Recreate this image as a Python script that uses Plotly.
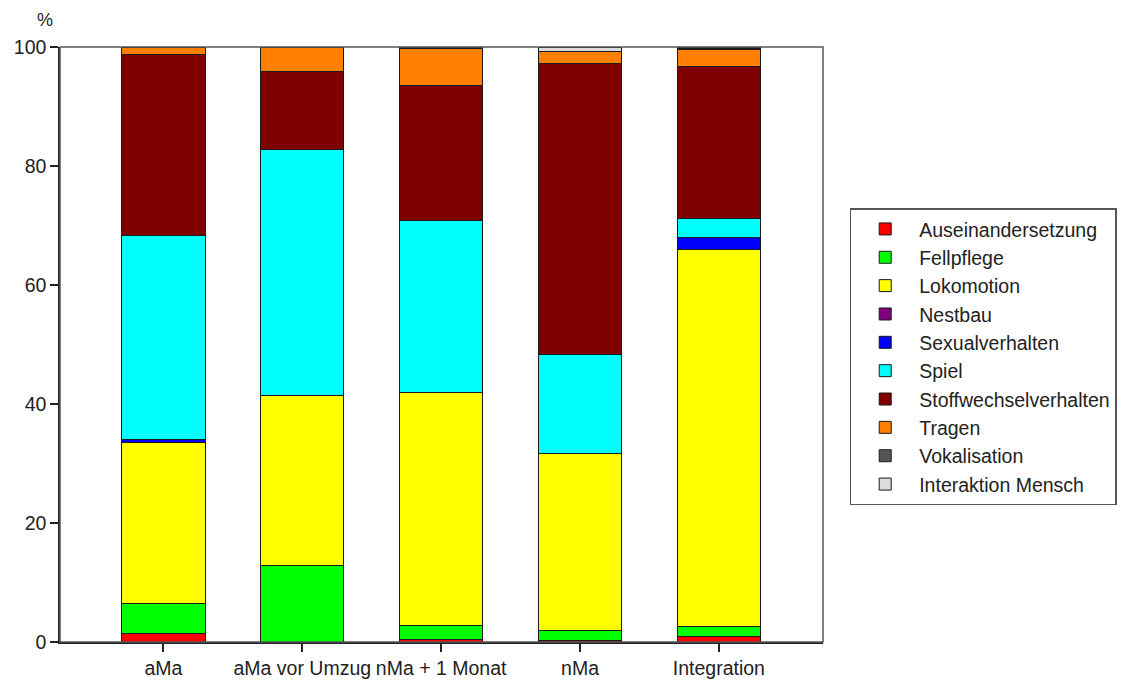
import plotly.graph_objects as go

categories = ["aMa", "aMa vor Umzug", "nMa + 1 Monat", "nMa", "Integration"]

series_names = [
    "Auseinandersetzung", "Fellpflege", "Lokomotion", "Nestbau", "Sexualverhalten",
    "Spiel", "Stoffwechselverhalten", "Tragen", "Vokalisation", "Interaktion Mensch",
]

auseinandersetzung = [1.5, 0.0, 0.4, 0.2, 0.9]
fellpflege = [5.0, 12.9, 2.4, 1.8, 1.7]
lokomotion = [27.0, 28.6, 39.2, 29.6, 63.4]
nestbau = [0.0, 0.0, 0.0, 0.0, 0.0]
sexualverhalten = [0.6, 0.0, 0.0, 0.0, 2.0]
spiel = [34.3, 41.3, 28.8, 16.7, 3.2]
stoffwechselverhalten = [30.4, 13.1, 22.8, 48.9, 25.6]
tragen = [1.1, 4.1, 6.2, 2.0, 2.7]
vokalisation = [0.0, 0.0, 0.0, 0.1, 0.2]
interaktion_mensch = [0.0, 0.0, 0.2, 0.7, 0.3]

series_values = [
    auseinandersetzung, fellpflege, lokomotion, nestbau, sexualverhalten,
    spiel, stoffwechselverhalten, tragen, vokalisation, interaktion_mensch,
]

colors = [
    "#FF0000", "#00FF00", "#FFFF00", "#800080", "#0000FF",
    "#00FFFF", "#800000", "#FF8000", "#555555", "#DCDCDC",
]

y_ticks = [0, 20, 40, 60, 80, 100]

FONT = "Liberation Sans, Arial, sans-serif"
FS = 19.5

fig = go.Figure()
for name, vals, col in zip(series_names, series_values, colors):
    fig.add_trace(go.Bar(
        x=categories, y=vals, name=name, legendgroup=name,
        marker=dict(color=col, line=dict(color="#1a1a1a", width=1)),
        width=0.6,
    ))

fig.update_layout(
    width=1119, height=677,
    margin=dict(l=52, r=304, t=39, b=43, autoexpand=False),
    barmode="stack",
    plot_bgcolor="white", paper_bgcolor="white",
    font=dict(family=FONT, size=FS, color="#222222"),
    showlegend=True,
    legend=dict(
        x=1.035, y=0.729, xanchor="left", yanchor="top",
        bordercolor="#555555", borderwidth=1.5,
        font=dict(family=FONT, size=FS, color="#222222"),
        traceorder="normal", tracegroupgap=5,
        itemwidth=58,
    ),
    xaxis=dict(
        type="category", range=[-0.745, 4.75], automargin=False,
        showline=True, linecolor="#222222", linewidth=2,
        ticks="outside", ticklen=8, tickcolor="#222222", tickwidth=1.5,
        tickfont=dict(family=FONT, size=FS, color="#222222"),
        showgrid=False, zeroline=False,
    ),
    yaxis=dict(
        range=[0, 100], tickvals=y_ticks, automargin=False,
        showline=True, linecolor="#222222", linewidth=1.5,
        ticks="outside", ticklen=8, tickcolor="#222222", tickwidth=1.5,
        tickfont=dict(family=FONT, size=FS, color="#222222"),
        showgrid=False, zeroline=False,
    ),
    shapes=[dict(type="rect", xref="paper", yref="paper", x0=0, x1=1, y0=0, y1=1,
                 line=dict(color="#555555", width=1.5), layer="above")],
    annotations=[dict(text="%", xref="paper", yref="paper", x=-0.02, y=1.045,
                      xanchor="center", yanchor="middle", showarrow=False,
                      font=dict(family=FONT, size=18, color="#222222"))],
)

fig.write_html("out.html")
